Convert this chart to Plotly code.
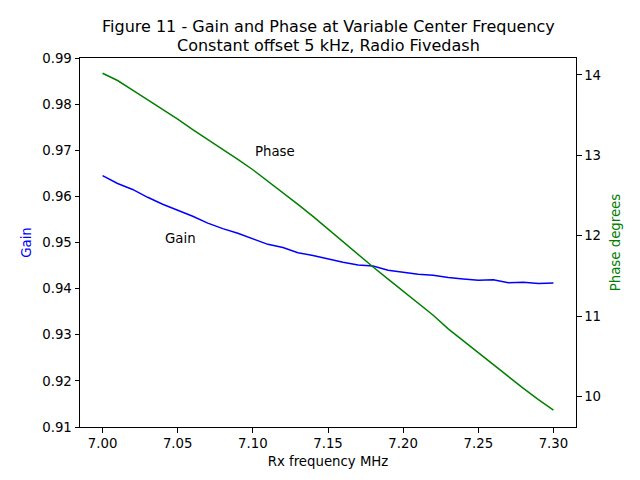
import plotly.graph_objects as go

freq = [7.00, 7.01, 7.02, 7.03, 7.04, 7.05, 7.06, 7.07, 7.08, 7.09, 7.10,
        7.11, 7.12, 7.13, 7.14, 7.15, 7.16, 7.17, 7.18, 7.19, 7.20,
        7.21, 7.22, 7.23, 7.24, 7.25, 7.26, 7.27, 7.28, 7.29, 7.30]
gain = [0.9645, 0.9628, 0.9615, 0.9598, 0.9583, 0.9570, 0.9557, 0.9542, 0.9530, 0.9520, 0.9508,
        0.9496, 0.9489, 0.9478, 0.9472, 0.9464, 0.9457, 0.9451, 0.9449, 0.9440, 0.9436,
        0.9431, 0.9429, 0.9424, 0.9421, 0.9418, 0.9419, 0.9413, 0.9414, 0.9411, 0.9412]
phase = [14.02, 13.93, 13.81, 13.69, 13.58, 13.45, 13.32, 13.20, 13.07, 12.95, 12.82,
         12.68, 12.53, 12.39, 12.24, 12.08, 11.93, 11.77, 11.61, 11.46, 11.31,
         11.16, 11.01, 10.84, 10.69, 10.54, 10.39, 10.24, 10.10, 9.96, 9.83]
x_ticks = [7.00, 7.05, 7.10, 7.15, 7.20, 7.25, 7.30]
gain_ticks = [0.91, 0.92, 0.93, 0.94, 0.95, 0.96, 0.97, 0.98, 0.99]
phase_ticks = [10, 11, 12, 13, 14]
title_lines = ["Figure 11 - Gain and Phase at Variable Center Frequency",
               "Constant offset 5 kHz, Radio Fivedash"]

FONT = "DejaVu Sans"
fig = go.Figure()
fig.add_trace(go.Scatter(x=freq, y=gain, mode="lines", line=dict(color="blue", width=1.5),
                         name="Gain", yaxis="y"))
fig.add_trace(go.Scatter(x=freq, y=phase, mode="lines", line=dict(color="green", width=1.5),
                         name="Phase", yaxis="y2"))

axis_common = dict(showline=True, linecolor="black", linewidth=1, ticks="outside",
                   ticklen=4.5, tickwidth=1, tickcolor="black", showgrid=False, zeroline=False,
                   automargin=False,
                   tickfont=dict(family=FONT, size=13.3, color="black"))

# The page places the figure 8px from the top-left corner, so the figure is
# 632x472 with margins chosen to put the axes at the reference position.
fig.update_layout(
    width=632, height=472,
    margin=dict(l=72, r=64, t=49.6, b=52.8),
    paper_bgcolor="white", plot_bgcolor="white",
    showlegend=False,
    font=dict(family=FONT, color="black"),
    xaxis=dict(range=[6.985, 7.315], tickvals=x_ticks, ticktext=[f"{v:.2f}" for v in x_ticks],
               mirror=True,
               title=dict(text="Rx frequency MHz", font=dict(family=FONT, size=13.3, color="black"), standoff=6),
               **axis_common),
    yaxis=dict(range=[0.91, 0.99], tickvals=gain_ticks, ticktext=[f"{v:.2f}" for v in gain_ticks],
               title=dict(text="Gain", font=dict(family=FONT, size=13.3, color="blue"), standoff=7),
               **axis_common),
    yaxis2=dict(range=[9.62, 14.21], tickvals=phase_ticks, ticktext=[str(v) for v in phase_ticks],
                overlaying="y", side="right",
                title=dict(text="Phase degrees", font=dict(family=FONT, size=13.3, color="green"), standoff=10),
                **axis_common),
)

for line_text, shift in zip(title_lines, [31.5, 13]):
    fig.add_annotation(x=0.5, y=1, xref="paper", yref="paper", yanchor="middle", xanchor="center",
                       yshift=shift, showarrow=False, text=line_text,
                       font=dict(family=FONT, size=16, color="black"))
fig.add_annotation(x=7.10, y=0.9688, xref="x", yref="y", text="Phase", showarrow=False,
                   xanchor="left", yanchor="bottom", yshift=-5,
                   font=dict(family=FONT, size=13.3, color="black"))
fig.add_annotation(x=7.04, y=0.95, xref="x", yref="y", text="Gain", showarrow=False,
                   xanchor="left", yanchor="bottom", yshift=-5,
                   font=dict(family=FONT, size=13.3, color="black"))

fig.write_html("out.html")
